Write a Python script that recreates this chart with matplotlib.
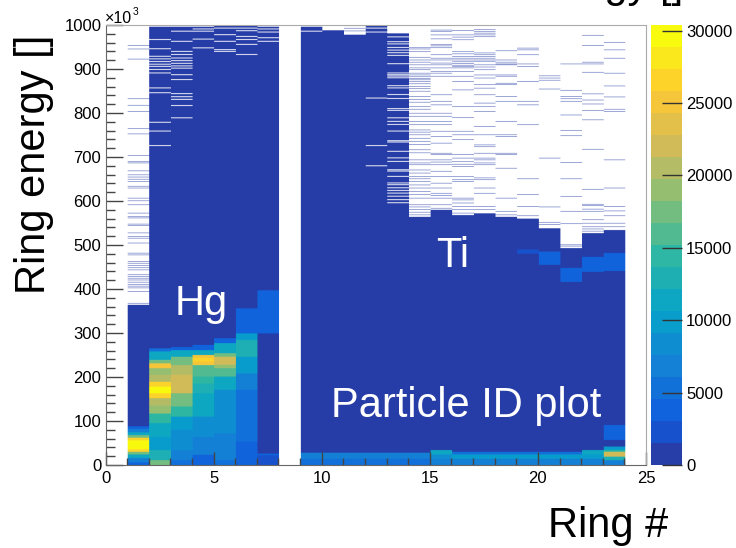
import numpy as np
import matplotlib
matplotlib.use("Agg")
import matplotlib.pyplot as plt
from matplotlib.colors import ListedColormap, BoundaryNorm, LinearSegmentedColormap
from matplotlib.cm import ScalarMappable

plt.rcParams['font.family'] = ['Liberation Sans', 'DejaVu Sans']

# ---------------------------------------------------------------- data
# Ring energy in units of 10^3, histogram binned in 1x10^3 steps.
ENERGY_MAX = 1000
BIN_W = 1
GAP_W = 2
N_RING_BINS = 25
BASE_COUNT = 700          # typical content of the populated region
HIT_COUNT = 1             # isolated single entries

RINGS = [1, 2, 3, 4, 5, 6, 7, 9, 10, 11, 12, 13, 14, 15, 16, 17, 18, 19, 20, 21, 22, 23]
DENSE_TOP = [364, 1000, 1000, 1000, 1000, 1000, 1000, 1000, 988, 978, 1000, 981,
             564, 580, 568, 572, 564, 560, 538, 493, 527, 534]

# isolated entries above the populated region
HITS = {
    1: [953, 945, 922, 832, 817, 803, 764, 752, 703, 689, 686, 668, 659, 654, 649, 644,
        633, 629, 606, 600, 591, 572, 564, 561, 547, 544, 527, 519, 515, 504, 481, 477,
        462, 458, 453, 448, 443, 432, 428, 424, 420, 415, 410, 406, 402, 394, 367],
    11: [998, 992, 986],
    14: [948, 945, 939, 926, 920, 915, 909, 902, 898, 890, 886, 882, 878, 875, 871, 866,
         860, 855, 849, 837, 830, 824, 814, 808, 799, 792, 780, 773, 761, 756, 750, 742,
         735, 728, 716, 709, 693, 686, 682, 670, 663, 655, 650, 644, 636, 629, 621, 614,
         606, 591, 586, 580, 574, 568],
    15: [988, 985, 977, 968, 955, 952, 948, 932, 924, 920, 913, 909, 902, 894, 890, 883,
         841, 826, 818, 799, 792, 780, 773, 758, 746, 731, 708, 705, 693, 688, 682, 667,
         655, 640, 629, 617, 612, 606, 591, 583],
    16: [987, 977, 972, 966, 939, 934, 928, 924, 920, 916, 912, 908, 905, 902, 894, 883,
         871, 852, 814, 789, 758, 750, 739, 705, 697, 689, 683, 678, 655, 648, 644, 606,
         602, 595, 587, 580, 572],
    17: [989, 985, 981, 977, 973, 936, 932, 928, 924, 920, 917, 909, 904, 898, 886, 879,
         864, 856, 841, 822, 814, 803, 769, 750, 727, 723, 708, 697, 693, 686, 682, 652,
         648, 629, 617, 587, 580],
    18: [941, 920, 915, 911, 909, 886, 883, 867, 864, 837, 826, 780, 750, 746, 708, 705,
         674, 606, 576, 568],
    19: [947, 943, 932, 911, 905, 871, 826, 818, 773, 650, 614, 587, 566],
    20: [884, 879, 874, 854, 697, 586, 551, 546],
    21: [911, 851, 837, 832, 826, 795, 760, 748, 687, 650, 610, 576, 548, 500, 497],
    22: [976, 953, 915, 911, 892, 843, 829, 820, 805, 784, 717, 626, 592, 589, 581, 576,
         557, 549, 541, 536, 531],
    23: [960, 943, 924, 890, 861, 836, 808, 803, 693, 629, 587, 577, 566, 549, 541],
}

# empty bins inside the populated region
GAPS = {
    2: [996, 966, 945, 928, 922, 916, 910, 905, 898, 890, 856, 845, 778, 758, 725],
    3: [996, 985, 962, 939, 932, 924, 918, 912, 906, 901, 886, 875, 843, 836, 830, 816, 788],
    4: [996, 990, 985, 967, 947],
    5: [992, 977, 962, 943, 939],
    6: [992, 986, 973, 966, 955, 932],
    7: [996, 990, 983, 970, 962],
    9: [999, 996, 985],
    12: [992, 983, 833, 725, 679],
    13: [972, 961, 956, 948, 942, 936, 930, 911, 890, 886, 883, 879, 861, 856, 841, 832,
         809, 805, 788, 780, 773, 758, 736, 733, 712, 697, 689, 670, 667, 655, 640, 636,
         629, 623, 617, 610, 602, 595],
}

# (energy low, energy high, counts) segments of the high-statistics loci
BANDS = {
    1: [(0, 6, 3800), (6, 16, 6840), (16, 24, 11400), (24, 30, 17480), (30, 36, 26600),
        (36, 42, 29640), (42, 48, 30390), (48, 56, 29640), (56, 62, 26600), (62, 68, 17480),
        (68, 74, 11400), (74, 82, 6840), (82, 88, 3800)],
    2: [(0, 11, 17480), (11, 34, 12920), (34, 64, 9880), (64, 95, 11400), (95, 117, 14440),
        (117, 135, 19000), (135, 152, 20520), (152, 163, 26600), (163, 178, 29640),
        (178, 189, 26600), (189, 205, 20520), (205, 220, 19000), (220, 231, 25080),
        (231, 239, 17480), (239, 258, 11400), (258, 265, 5320)],
    3: [(0, 11, 5320), (11, 34, 6840), (34, 80, 8360), (80, 110, 9880), (110, 133, 14440),
        (133, 163, 17480), (163, 205, 22040), (205, 227, 20520), (227, 246, 17480),
        (246, 261, 11400), (261, 268, 3800)],
    4: [(0, 23, 3800), (23, 64, 6840), (64, 110, 8360), (110, 163, 11400), (163, 185, 12920),
        (185, 201, 14440), (201, 227, 15960), (227, 235, 25080), (235, 243, 26600),
        (243, 250, 25080), (250, 261, 11400), (261, 273, 3800)],
    5: [(0, 11, 5320), (11, 72, 6840), (72, 171, 8360), (171, 201, 11400), (201, 220, 15960),
        (220, 228, 19000), (228, 246, 22040), (246, 254, 17480), (254, 277, 11400),
        (277, 288, 3800)],
    6: [(0, 53, 3800), (53, 171, 5320), (171, 208, 6840), (208, 246, 9880),
        (246, 284, 12920), (284, 299, 9880), (299, 356, 3800)],
    7: [(0, 22, 2280), (22, 26, 3800), (299, 397, 3800)],
    9: [(0, 14, 5320), (14, 28, 6840)],
    10: [(0, 14, 5320), (14, 28, 6840)],
    11: [(0, 14, 5320), (14, 28, 6840)],
    12: [(0, 14, 5320), (14, 28, 6840)],
    13: [(0, 14, 5320), (14, 28, 6840)],
    14: [(0, 14, 5320), (14, 28, 6840)],
    15: [(0, 14, 6840), (14, 24, 8360), (24, 34, 11400)],
    16: [(0, 14, 6840), (14, 24, 9880), (24, 30, 5320)],
    17: [(0, 14, 6840), (14, 24, 9880), (24, 30, 5320)],
    18: [(0, 14, 6840), (14, 24, 9880), (24, 30, 5320)],
    19: [(0, 14, 6840), (14, 24, 9880), (24, 30, 5320), (480, 490, 2280)],
    20: [(0, 14, 6840), (14, 24, 9880), (24, 30, 5320), (455, 485, 3800)],
    21: [(0, 14, 6840), (14, 24, 9880), (24, 30, 5320), (416, 448, 3800)],
    22: [(0, 14, 6840), (14, 24, 9880), (24, 34, 11400), (439, 473, 3800)],
    23: [(0, 11, 6840), (11, 19, 12920), (19, 30, 22040), (30, 34, 14440), (34, 42, 9880),
         (57, 91, 3800), (441, 482, 3800)],
}

Y_TICKS = [0, 100, 200, 300, 400, 500, 600, 700, 800, 900, 1000]
X_TICKS = [0, 5, 10, 15, 20, 25]
Z_TICKS = [0, 5000, 10000, 15000, 20000, 25000, 30000]
N_CONTOURS = 20

# ---------------------------------------------------------------- histogram
n_rows = ENERGY_MAX // BIN_W


def ebin(e):
    return int(e // BIN_W)


counts = np.zeros((n_rows, N_RING_BINS))
for ring, top in zip(RINGS, DENSE_TOP):
    counts[:ebin(top), ring] = BASE_COUNT
    for lo, hi, c in BANDS.get(ring, []):
        counts[ebin(lo):ebin(hi), ring] = c
    for e in HITS.get(ring, []):
        counts[ebin(e), ring] = max(counts[ebin(e), ring], HIT_COUNT)
    for e in GAPS.get(ring, []):
        counts[ebin(e):ebin(e + GAP_W), ring] = 0

zmax = counts.max()

# bird palette, sampled at 20 contour levels
stops = [0.0, 0.125, 0.25, 0.375, 0.5, 0.625, 0.75, 0.875, 1.0]
red = [0.2082, 0.0592, 0.0780, 0.0232, 0.1802, 0.5301, 0.8186, 0.9956, 0.9764]
green = [0.1664, 0.3599, 0.5041, 0.6419, 0.7178, 0.7492, 0.7328, 0.7862, 0.9832]
blue = [0.5293, 0.8684, 0.8385, 0.7914, 0.6425, 0.4662, 0.3499, 0.1968, 0.0539]
bird = LinearSegmentedColormap.from_list(
    "bird", list(zip(stops, zip(red, green, blue))), N=255)
idx = [int((i + 0.99) * 255 / N_CONTOURS) for i in range(N_CONTOURS)]
cmap = ListedColormap([bird(min(k, 254)) for k in idx])
levels = np.linspace(0, zmax, N_CONTOURS + 1)
norm = BoundaryNorm(levels, cmap.N)

rgb = cmap(norm(counts))
rgb[counts == 0] = (1, 1, 1, 1)
rgb = np.repeat(rgb, 22, axis=1)

# ---------------------------------------------------------------- figure
W, H = 736, 548
fig = plt.figure(figsize=(W / 100, H / 100), dpi=100)


def box(l, t, r, b):
    return [l / W, 1 - b / H, (r - l) / W, (b - t) / H]


ax = fig.add_axes(box(105.5, 25, 646, 465))
ax.imshow(rgb, origin='lower', extent=(0, N_RING_BINS, 0, ENERGY_MAX),
          aspect='auto', interpolation='hanning')
ax.set_xlim(0, N_RING_BINS)
ax.set_ylim(0, ENERGY_MAX)

ax.set_xticks(X_TICKS)
ax.set_xticks(np.arange(0, N_RING_BINS + 1, 1), minor=True)
ax.set_yticks(Y_TICKS)
ax.set_yticks(np.arange(0, ENERGY_MAX + 1, 20), minor=True)
ax.tick_params(axis='both', which='both', direction='in', top=False, right=False,
               color='#444444', labelsize=12, width=1)
ax.tick_params(axis='x', which='major', length=9.5, pad=4)
ax.tick_params(axis='x', which='minor', length=5)
ax.tick_params(axis='y', which='major', length=12.5, pad=3)
ax.tick_params(axis='y', which='minor', length=6.5)
for s in ('left', 'bottom'):
    ax.spines[s].set_color('#666666')
for s in ('top', 'right'):
    ax.spines[s].set_color('#aaaaaa')

# axis exponent
fig.text(105 / W, 1 - 23 / H, "×10", fontsize=11.5, ha='left', va='baseline')
fig.text(133 / W, 1 - 15 / H, "3", fontsize=7.5, ha='left', va='baseline')

# palette axis
cax = fig.add_axes(box(651, 25, 682, 465))
cb = fig.colorbar(ScalarMappable(norm=norm, cmap=cmap), cax=cax)
cb.outline.set_visible(False)
cb.set_ticks(Z_TICKS)
cb.set_ticklabels([str(t) for t in Z_TICKS])
cax.minorticks_off()
cax.tick_params(direction='in', length=14.5, color='#333333', width=1,
                labelsize=12, pad=3)

# titles
fig.text(45 / W, 1 - 35 / H, "Ring energy []", fontsize=30, rotation=90,
         rotation_mode='anchor', ha='right', va='baseline')
fig.text(668 / W, 1 - 537 / H, "Ring #", fontsize=30, ha='right', va='baseline')
fig.text(683 / W, 1 + 3 / H, "energy []", fontsize=30, ha='right', va='baseline')

# labels on the plot
ax.text(4.41, 341, "Hg", color='white', fontsize=30, ha='center', va='baseline')
ax.text(16.06, 450, "Ti", color='white', fontsize=30, ha='center', va='baseline')
ax.text(16.66, 109, "Particle ID plot", color='white', fontsize=30,
        ha='center', va='baseline')

fig.savefig("out.png", dpi=100)
